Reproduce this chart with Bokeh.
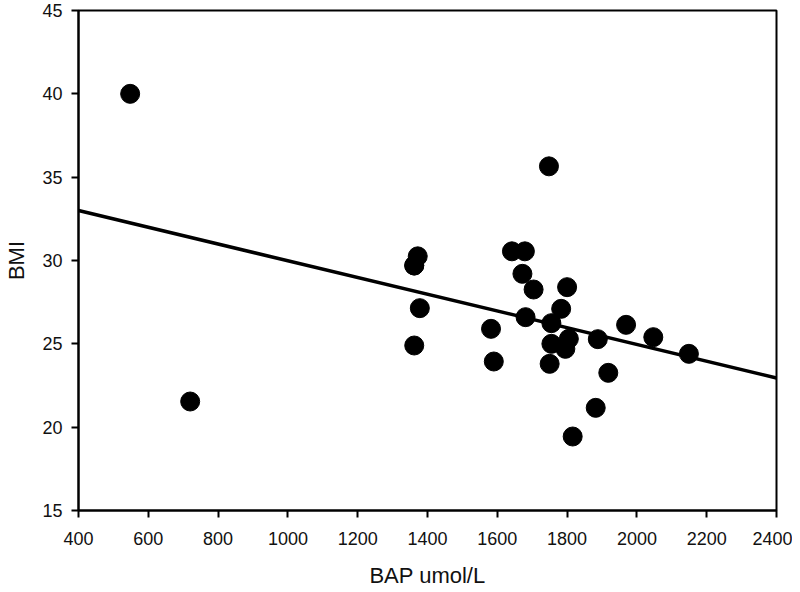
from bokeh.plotting import figure
from bokeh.models import Range1d, FixedTicker
from bokeh.embed import file_html
from bokeh.resources import INLINE

# Data
bap = [548, 720, 1362, 1372, 1362, 1378, 1362, 1582, 1590, 1642, 1679, 1672, 1704,
       1681, 1748, 1755, 1755, 1750, 1783, 1800, 1805, 1795, 1816, 1882, 1888, 1918,
       1969, 2047, 2149]
bmi = [40.0, 21.54, 29.7, 30.25, 24.9, 27.14, 29.7, 25.9, 23.94, 30.55, 30.55, 29.2, 28.26,
       26.6, 35.65, 26.24, 25.0, 23.8, 27.1, 28.4, 25.3, 24.7, 19.44, 21.16, 25.28, 23.26,
       26.14, 25.4, 24.4]
fit_x = [400, 2400]
fit_y = [33.0, 22.95]
x_ticks = [400, 600, 800, 1000, 1200, 1400, 1600, 1800, 2000, 2200, 2400]
y_ticks = [15, 20, 25, 30, 35, 40, 45]
x_label = "BAP umol/L"
y_label = "BMI"

FONT = "Liberation Sans"
TXT = "#111111"

p = figure(width=792, height=592, output_backend="svg", toolbar_location=None,
           x_range=Range1d(400, 2400), y_range=Range1d(15, 45),
           min_border_left=78, min_border_right=16, min_border_top=10, min_border_bottom=82)
p.xgrid.visible = False
p.ygrid.visible = False
p.outline_line_color = "black"
p.outline_line_width = 2
p.outline_line_alpha = 1
p.background_fill_color = "white"
p.border_fill_color = "white"

p.line(fit_x, fit_y, line_color="black", line_width=3.5)
p.scatter(bap, bmi, size=19, fill_color="black", line_color="black")

for ax, ticks, label in ((p.xaxis[0], x_ticks, x_label), (p.yaxis[0], y_ticks, y_label)):
    ax.ticker = FixedTicker(ticks=ticks)
    ax.axis_label = label
    ax.axis_label_text_font = FONT
    ax.axis_label_text_font_style = "normal"
    ax.axis_label_text_font_size = "22px"
    ax.axis_label_text_color = TXT
    ax.major_label_text_font = FONT
    ax.major_label_text_font_size = "18px"
    ax.major_label_text_color = TXT
    ax.axis_line_width = 2
    ax.axis_line_color = "black"
    ax.major_tick_line_width = 2
    ax.major_tick_line_color = "black"
    ax.major_tick_out = 7
    ax.major_tick_in = 0
    ax.minor_tick_line_color = None

p.xaxis.major_label_standoff = 14
p.xaxis.axis_label_standoff = 15
p.yaxis.major_label_standoff = 9
p.yaxis.axis_label_standoff = 10

open("out.html", "w").write(file_html(p, INLINE))
